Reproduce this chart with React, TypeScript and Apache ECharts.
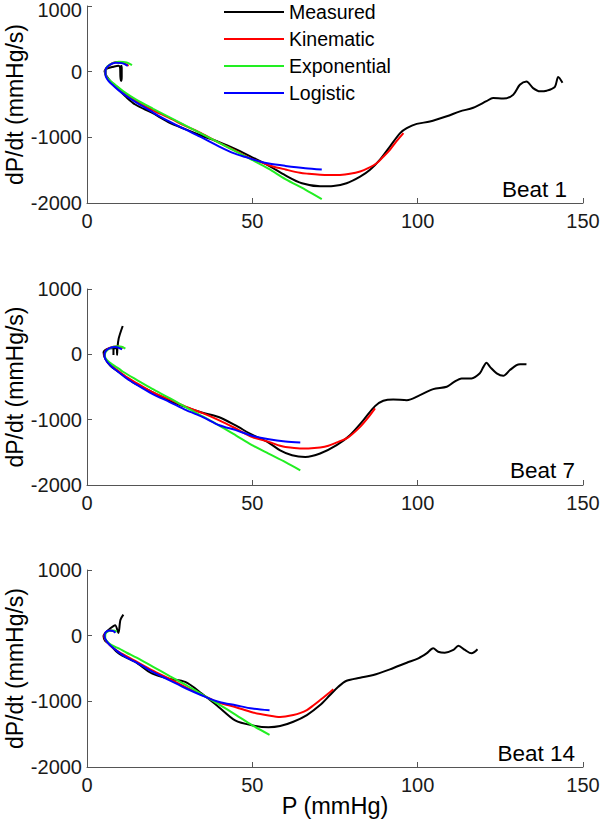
import React, { useEffect, useRef } from 'react';
import * as echarts from 'echarts';

const FONT = '"Liberation Sans", Arial, Helvetica, sans-serif';

const seriesNames = ['Measured', 'Kinematic', 'Exponential', 'Logistic'];
const seriesColors = ['#000000', '#ff0000', '#22ee22', '#0000ff'];
const beatLabels = ['Beat 1', 'Beat 7', 'Beat 14'];
const xTicks = { min: 0, max: 150, interval: 50 };
const yTicks = { min: -2000, max: 1000, interval: 1000 };

// Beat 1: [P (mmHg), dP/dt (mmHg/s)]
const beat1Measured = [
  [143.8, -170], [142.5, -80], [141.5, -230], [139, -290], [137, -300], [134.9, -250], [132.9, -150],
  [130.9, -200], [128.9, -350], [125.9, -410], [122.8, -400], [120.8, -450], [116.8, -550], [112.8, -605],
  [108.8, -680], [103.7, -760], [99.7, -795], [96.7, -860], [94.7, -935], [91.6, -1140], [88.6, -1340],
  [85.6, -1495], [82.6, -1600], [78.5, -1700], [74.5, -1740], [70.5, -1745], [65, -1700], [60, -1580],
  [54.9, -1430], [49.8, -1300], [44.8, -1175], [39.8, -1070], [34.7, -975], [29.7, -875], [24.7, -770],
  [19.6, -625], [14.6, -500], [11.6, -375], [9.6, -275], [7.6, -175], [6, -75], [5.3, 10], [6.2, 50],
  [8, 75], [9.5, 90], [10, 60], [10.1, -80], [10.3, -140], [10.5, -80], [10.5, 60], [10.3, 100],
];
const beat1Kinematic = [
  [95.7, -935], [93.5, -1065], [91.6, -1190], [89.5, -1300], [87.6, -1395], [85, -1470], [82.6, -1520],
  [79.5, -1555], [76.5, -1572], [73, -1575], [70.5, -1570], [67, -1555], [64.4, -1540], [60, -1490],
  [56, -1440], [52.4, -1375], [49.8, -1330], [46.3, -1240], [40, -1085], [34.5, -935], [29.7, -825],
  [24.7, -700], [19.6, -580], [14.6, -440], [11.6, -340], [9.6, -255], [8, -190], [6.5, -120],
  [5.6, -40], [5.6, 30], [6.8, 100], [8.6, 145], [10.5, 140], [12.6, 90],
];
const beat1Exponential = [
  [71, -1940], [66, -1795], [60, -1635], [55, -1480], [50, -1345], [45, -1215], [40, -1085], [35, -955],
  [30, -825], [25, -695], [20, -565], [15, -430], [11, -300], [8.5, -200], [6.5, -115], [5.6, -40],
  [5.7, 40], [7, 110], [9.6, 150], [12, 140], [13.6, 100],
];
const beat1Logistic = [
  [71, -1490], [66, -1470], [60, -1435], [55, -1400], [52.4, -1370], [48, -1300], [44.3, -1240],
  [40, -1140], [34.2, -990], [29.7, -880], [25, -760], [22.1, -685], [19.6, -610], [14.6, -460],
  [12, -375], [9.6, -285], [8, -215], [6.5, -140], [5.6, -50], [5.6, 20], [6.5, 90], [8.6, 135],
  [10.5, 130], [12.3, 90],
];

// Beat 7
const beat7Measured = [
  [132.9, -153], [131, -150], [129.9, -164], [127.9, -241], [125.9, -328], [123.9, -291], [122, -200],
  [120.8, -129], [119.8, -200], [118.8, -291], [116.3, -368], [113.3, -368], [110.8, -430], [108.8, -497],
  [104.7, -532], [100.7, -624], [96.7, -701], [92.6, -690], [89.6, -711], [87.1, -793], [83.6, -1007],
  [79.5, -1237], [75.5, -1390], [70.5, -1518], [66, -1570], [62, -1545], [58.4, -1470], [54.9, -1350],
  [49.9, -1230], [44.8, -1085], [39.8, -960], [34.7, -890], [29.7, -805], [24.7, -705], [19.6, -575],
  [14.6, -450], [9.6, -270], [7, -170], [5.5, -65], [5, 30], [6, 80], [7.3, 95], [8, 90], [8, -10],
  [8.1, 90], [9, 95], [9.1, -10], [9.2, 95], [9.6, 245], [10.8, 434],
];
const beat7Kinematic = [
  [87.1, -828], [85, -970], [82.6, -1110], [79, -1270], [76, -1340], [73, -1400], [70.5, -1426],
  [67, -1440], [64.4, -1441], [60, -1420], [58.4, -1400], [55, -1340], [50, -1265], [45, -1135],
  [40, -1010], [35, -900], [30, -805], [25, -690], [19.6, -575], [15, -440], [12, -350], [9.6, -260],
  [7.5, -175], [6, -100], [5.3, -20], [5.6, 50], [7, 100], [9, 120], [11, 100],
];
const beat7Exponential = [
  [64.5, -1775], [60, -1650], [54.9, -1520], [49.9, -1390], [45, -1240], [40, -1090], [35, -950],
  [29.7, -806], [25, -670], [19.6, -525], [15, -390], [11, -270], [9.6, -219], [7.5, -150], [6, -85],
  [5.4, -20], [5.7, 40], [7, 95], [9.1, 122], [10.5, 115], [11.6, 87],
];
const beat7Logistic = [
  [64.5, -1350], [60, -1335], [55, -1300], [49.9, -1245], [45, -1160], [40, -1085], [35, -960],
  [30, -855], [25, -730], [19.6, -600], [15, -465], [12, -370], [9.6, -275], [7.5, -190], [6, -110],
  [5.3, -30], [5.5, 40], [6.8, 95], [8.6, 112], [10.6, 77],
];

// Beat 14
const beat14Measured = [
  [118.1, -208], [116.3, -269], [114.3, -218], [112.3, -152], [110.8, -218], [108.2, -259], [106.2, -244],
  [104.7, -193], [102.7, -269], [100.2, -345], [96.7, -412], [91.6, -513], [86.6, -600], [82.6, -640],
  [78.5, -687], [76, -778], [73.5, -904], [70.5, -1057], [66.5, -1209], [62.4, -1311], [58.4, -1377],
  [54.9, -1395], [49.9, -1365], [44.8, -1290], [39.8, -1085], [34.7, -880], [29.7, -705], [24.7, -655],
  [19.6, -575], [14.6, -400], [9.6, -270], [6.5, -115], [5.5, -80], [5, -10], [5.5, 40], [7, 110],
  [8.5, 160], [9.5, 40], [10.1, 240], [11, 320],
];
const beat14Kinematic = [
  [74.5, -817], [72.5, -900], [70.5, -981], [68.5, -1060], [66.5, -1133], [64.4, -1180], [62.4, -1209],
  [60, -1232], [58.4, -1238], [54.9, -1215], [49.9, -1165], [44.8, -1085], [39.8, -1020], [34.7, -900],
  [29.7, -780], [24.7, -650], [19.6, -525], [14.6, -385], [9.6, -245], [7, -150], [5.5, -60],
  [5.2, 10], [6, 60], [7, 80], [8.5, 60],
];
const beat14Exponential = [
  [55.2, -1510], [50, -1365], [45, -1205], [40, -1050], [35, -900], [30, -755], [25, -615], [20, -475],
  [15, -335], [12, -260], [9.6, -195], [7.5, -145], [6.5, -110], [5.5, -40], [5.6, 30], [6.8, 75],
  [8, 80], [9, 60],
];
const beat14Logistic = [
  [55.2, -1137], [50, -1110], [45, -1060], [40, -1010], [35, -915], [30, -805], [25, -680], [20, -555],
  [15, -410], [12, -335], [9.6, -255], [7.5, -170], [6, -90], [5.3, -10], [5.6, 50], [6.8, 80],
  [8, 70], [8.6, 45],
];

const beats = [
  [beat1Measured, beat1Kinematic, beat1Exponential, beat1Logistic],
  [beat7Measured, beat7Kinematic, beat7Exponential, beat7Logistic],
  [beat14Measured, beat14Kinematic, beat14Exponential, beat14Logistic],
];

const grids = [
  { left: 87, top: 6, width: 496, height: 197, outerBoundsMode: 'none', containLabel: false },
  { left: 87, top: 289, width: 496, height: 196, outerBoundsMode: 'none', containLabel: false },
  { left: 87, top: 570, width: 496, height: 197, outerBoundsMode: 'none', containLabel: false },
];
const beatLabelPos = [
  { x: 567, y: 189.5 },
  { x: 575, y: 470.5 },
  { x: 575, y: 753.5 },
];

const AXIS_COLOR = '#555555';
const LABEL_COLOR = '#1a1a1a';

function buildOption() {
  const xAxis = grids.map((_, i) => ({
    type: 'value',
    gridIndex: i,
    min: xTicks.min,
    max: xTicks.max,
    interval: xTicks.interval,
    splitLine: { show: false },
    axisLine: { show: true, onZero: false, lineStyle: { color: AXIS_COLOR, width: 1 } },
    axisTick: { show: true, inside: true, length: 5, lineStyle: { color: AXIS_COLOR } },
    axisLabel: {
      fontSize: 20, color: LABEL_COLOR, fontFamily: FONT, margin: 8,
      formatter: (v: number) => String(v),
    },
    name: i === 2 ? 'P (mmHg)' : '',
    nameLocation: 'middle',
    nameGap: 27,
    nameMoveOverlap: false,
    nameTextStyle: { fontSize: 23.5, color: '#000', fontFamily: FONT },
  }));
  const yAxis = grids.map((_, i) => ({
    type: 'value',
    gridIndex: i,
    min: yTicks.min,
    max: yTicks.max,
    interval: yTicks.interval,
    splitLine: { show: false },
    axisLine: { show: true, onZero: false, lineStyle: { color: AXIS_COLOR, width: 1 } },
    axisTick: { show: true, inside: true, length: 5, lineStyle: { color: AXIS_COLOR } },
    axisLabel: {
      fontSize: 20, color: LABEL_COLOR, fontFamily: FONT, margin: 5,
      formatter: (v: number) => (i === 0 && v === yTicks.max ? `{t|${v}}` : String(v)),
      rich: {
        t: { fontSize: 20, color: LABEL_COLOR, fontFamily: FONT, padding: [7, 0, 0, 0] },
      },
    },
    name: 'dP/dt (mmHg/s)',
    nameLocation: 'middle',
    nameRotate: 90,
    nameGap: 61,
    nameMoveOverlap: false,
    nameTextStyle: { fontSize: 23, color: '#000', fontFamily: FONT },
  }));
  const series: any[] = [];
  beats.forEach((group, gi) => {
    group.forEach((data, si) => {
      series.push({
        type: 'line',
        name: seriesNames[si],
        xAxisIndex: gi,
        yAxisIndex: gi,
        data,
        symbol: 'none',
        smooth: 0.3,
        lineStyle: { color: seriesColors[si], width: 2 },
        itemStyle: { color: seriesColors[si] },
        z: 2 + si,
      });
    });
  });
  return {
    animation: false,
    backgroundColor: '#ffffff',
    textStyle: { fontFamily: FONT },
    grid: grids,
    xAxis,
    yAxis,
    legend: {
      data: seriesNames,
      orient: 'vertical',
      left: 218,
      top: -3,
      itemWidth: 60,
      itemHeight: 2,
      itemGap: 7,
      itemStyle: { opacity: 0 },
      textStyle: { fontSize: 19.5, color: '#000', fontFamily: FONT },
    },
    graphic: beatLabels.map((t, i) => ({
      type: 'text',
      x: beatLabelPos[i].x,
      y: beatLabelPos[i].y,
      style: {
        text: t,
        fontSize: 22.5,
        fontFamily: FONT,
        fill: '#000',
        align: 'right',
        verticalAlign: 'middle',
      },
    })),
    series,
  };
}

export default function App() {
  const ref = useRef<HTMLDivElement>(null);
  useEffect(() => {
    document.body.style.margin = '0';
    const chart = echarts.init(ref.current as HTMLDivElement, null, { renderer: 'svg' });
    chart.setOption(buildOption() as any);
    return () => chart.dispose();
  }, []);
  return <div ref={ref} style={{ width: 600, height: 823 }} />;
}
